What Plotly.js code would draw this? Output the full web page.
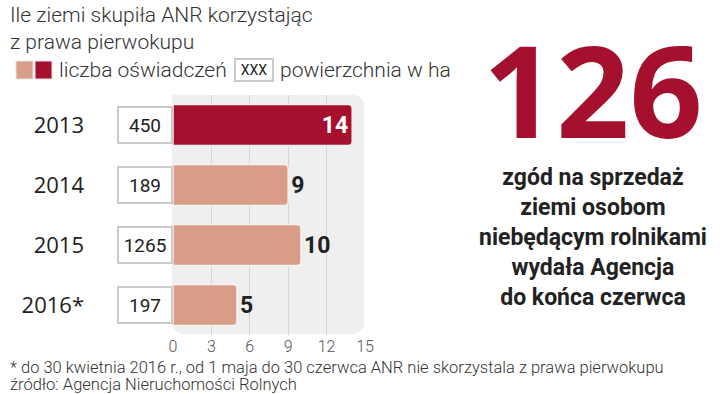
<!DOCTYPE html>
<html>
<head>
<meta charset="utf-8">
<script src="https://cdn.plot.ly/plotly-3.0.1.min.js"></script>
<style>
html,body{margin:0;padding:0;background:#fff;}
#chart{width:720px;height:394px;}
</style>
</head>
<body>
<div id="chart"></div>
<script>
// Data
const years = ['2013', '2014', '2015', '2016*'];
const declarations = [14, 9, 10, 5];          // liczba oświadczeń
const areaHa = ['450', '189', '1265', '197']; // powierzchnia w ha
const xTicks = [0, 3, 6, 9, 12, 15];
const bigNumber = '126';

const dark = '#A4102D';
const light = '#DA9E88';

const colors = years.map((y, i) => i === 0 ? dark : light);
const textPos = years.map((y, i) => i === 0 ? 'inside' : 'outside');

const xDom = [173/720, 365/720];
const yDom = [1 - 335/394, 1 - 95/394];

const trace = {
  type: 'bar',
  orientation: 'h',
  y: years,
  x: declarations,
  text: declarations.map(String),
  textposition: textPos,
  insidetextanchor: 'end',
  insidetextfont: {family: 'Roboto, sans-serif', size: 23, color: '#ffffff', weight: 700},
  outsidetextfont: {family: 'Roboto, sans-serif', size: 23, color: '#222222', weight: 700},
  cliponaxis: false,
  width: 0.68,
  marker: {color: colors, cornerradius: 4, line: {color: '#f4f4f4', width: 1.5}},
  hoverinfo: 'none'
};

const annotations = [];
// area boxes (positioned on the category axis by index)
years.forEach((y, i) => {
  annotations.push({
    xref: 'paper', yref: 'y', x: 145/720, y: i, xanchor: 'center', yanchor: 'middle',
    text: areaHa[i], showarrow: false,
    font: {family: 'Roboto, sans-serif', size: 19, color: '#222'},
    bgcolor: '#ffffff', bordercolor: '#cacaca', borderwidth: 2,
    width: 52, height: 34, borderpad: 0
  });
});
const titleFont = {family: 'Roboto, sans-serif', size: 21, color: '#333', weight: 300};
annotations.push({xref:'paper', yref:'paper', x: 8/720, y: 1 - 15/394, xanchor:'left', yanchor:'middle',
  text:'Ile ziemi skupiła ANR korzystając', showarrow:false, font: titleFont});
annotations.push({xref:'paper', yref:'paper', x: 8/720, y: 1 - 42/394, xanchor:'left', yanchor:'middle',
  text:'z prawa pierwokupu', showarrow:false, font: titleFont});
annotations.push({xref:'paper', yref:'paper', x: 57/720, y: 1 - 70/394, xanchor:'left', yanchor:'middle',
  text:'liczba oświadczeń', showarrow:false, font: titleFont});
annotations.push({xref:'paper', yref:'paper', x: 254/720, y: 1 - 70/394, xanchor:'center', yanchor:'middle',
  text:'XXX', showarrow:false, font: {family: 'Roboto, sans-serif', size: 14, color:'#222'},
  bgcolor:'#fff', bordercolor:'#cacaca', borderwidth:2, width: 36, height: 20, borderpad: 0});
annotations.push({xref:'paper', yref:'paper', x: 278/720, y: 1 - 70/394, xanchor:'left', yanchor:'middle',
  text:'powierzchnia w ha', showarrow:false, font: titleFont});
annotations.push({xref:'paper', yref:'paper', x: 593/720, y: 1 - 88/394, xanchor:'center', yanchor:'middle',
  text: bigNumber, showarrow:false, font: {family: '"Open Sans", Roboto, sans-serif', size: 128, color: dark, weight: 700}});
annotations.push({xref:'paper', yref:'paper', x: 593/720, y: 1 - 237/394, xanchor:'center', yanchor:'middle',
  text: 'zgód na sprzedaż<br>ziemi osobom<br>niebędącym rolnikami<br>wydała Agencja<br>do końca czerwca',
  showarrow:false, align:'center',
  font: {family: 'Roboto, sans-serif', size: 23, color: '#222', weight: 700}});
const footFont = {family: 'Roboto, sans-serif', size: 16.5, color: '#333', weight: 300};
annotations.push({xref:'paper', yref:'paper', x: 8/720, y: 1 - 367/394, xanchor:'left', yanchor:'middle',
  text:'* do 30 kwietnia 2016 r., od 1 maja do 30 czerwca ANR nie skorzystala z prawa pierwokupu', showarrow:false, font: footFont});
annotations.push({xref:'paper', yref:'paper', x: 8/720, y: 1 - 384/394, xanchor:'left', yanchor:'middle',
  text:'źródło: Agencja Nieruchomości Rolnych', showarrow:false, font: footFont});

// panel with rounded right corners (pixel -> paper helpers)
const px = v => v / 720, py = v => 1 - v / 394;
const r = 12;
const panelPath = 'M ' + px(172) + ' ' + py(95) +
  ' L ' + px(364 - r) + ' ' + py(95) +
  ' Q ' + px(364) + ' ' + py(95) + ' ' + px(364) + ' ' + py(95 + r) +
  ' L ' + px(364) + ' ' + py(334 - r) +
  ' Q ' + px(364) + ' ' + py(334) + ' ' + px(364 - r) + ' ' + py(334) +
  ' L ' + px(172 + r) + ' ' + py(334) +
  ' Q ' + px(172) + ' ' + py(334) + ' ' + px(172) + ' ' + py(334 - r) + ' Z';

const shapes = [
  {type:'path', xref:'paper', yref:'paper', path: panelPath,
   fillcolor:'#efefef', line:{width:0}, layer:'below'},
  {type:'rect', xref:'paper', yref:'paper', x0: px(16), x1: px(33), y0: py(79), y1: py(61),
   fillcolor: light, line:{color:'#e2e2e2', width:1}},
  {type:'rect', xref:'paper', yref:'paper', x0: px(35), x1: px(52), y0: py(79), y1: py(61),
   fillcolor: dark, line:{color:'#e2e2e2', width:1}}
];

const layout = {
  width: 720, height: 394,
  margin: {l:0, r:0, t:0, b:0},
  paper_bgcolor: '#ffffff',
  plot_bgcolor: 'rgba(0,0,0,0)',
  showlegend: false,
  xaxis: {
    domain: xDom, range: [0, 15], tickvals: xTicks, ticktext: xTicks.map(String),
    showgrid: true, gridcolor: '#d4d4d4', gridwidth: 1, zeroline: false, showline: false,
    ticks: '', tickfont: {family: 'Roboto, sans-serif', size: 16, color: '#555', weight: 300},
    fixedrange: true
  },
  yaxis: {
    domain: yDom, autorange: 'reversed', type: 'category',
    showgrid: false, zeroline: false, showline: false, ticks: '',
    ticklabelstandoff: 88,
    tickfont: {family: '"Open Sans", Roboto, sans-serif', size: 22, color: '#222'},
    fixedrange: true
  },
  annotations: annotations,
  shapes: shapes
};

Plotly.newPlot('chart', [trace], layout, {staticPlot: true, displayModeBar: false});
</script>
</body>
</html>
